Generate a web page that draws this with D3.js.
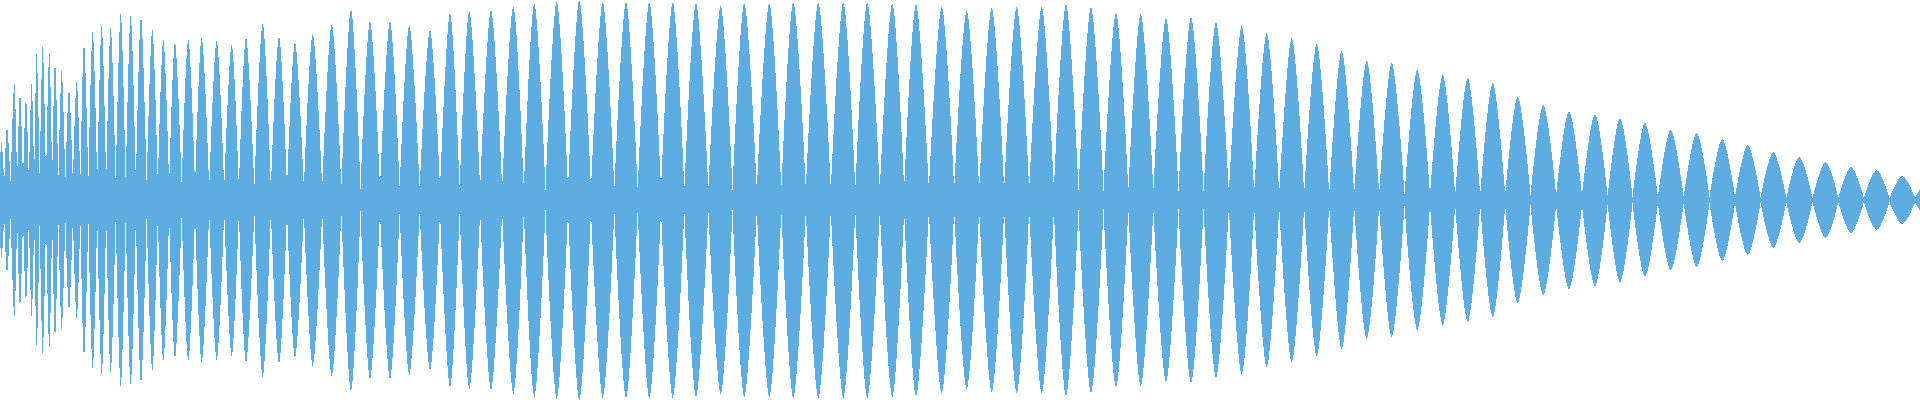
<!DOCTYPE html>
<html><head><meta charset="utf-8">
<script src="https://cdn.jsdelivr.net/npm/d3@7"></script>
<style>html,body{margin:0;padding:0;background:#fff;overflow:hidden}</style>
</head><body><svg id="chart" width="1920" height="400"></svg>
<script>
// Position (sample index) of each lobe's peak
const peakX = [
  1.5, 7, 14.3, 20, 26, 31.7, 36.7, 42.7, 49.3, 55, 61.7, 69, 76.7, 84, 92.7,
  101.7, 110.7, 120.7, 130.7, 141, 152.3, 163.3, 175, 188.3,
  201.7, 216.7, 231.7, 246, 262.7, 279, 295, 312.7, 331.7, 351, 370, 390, 409.3, 430, 450, 469.3, 491,
  513.3, 534.3, 556.7, 579.3, 602.7, 626, 649.3, 672.7, 696, 720.7, 744.3, 769.3, 793.3, 818.3, 843.3,
  867.3, 892.3, 916, 941.7, 966.7, 991.7, 1016.7, 1041.7, 1066, 1091, 1116, 1140.7, 1166, 1191,
  1216, 1241.7, 1266.7, 1291.7, 1316.7, 1341.7, 1366.7, 1391.7,
  1417.3, 1442.7, 1467.7, 1492.7, 1517.7, 1543.3, 1569, 1595,
  1620, 1645, 1670.7, 1696.7, 1722.3, 1747.7,
  1773.3, 1799.3, 1825.7, 1851, 1876.7, 1902.3, 1928
];
// Peak amplitude of each lobe (normalised, 1 = full height)
const peakAmp = [
  0.285, 0.365, 0.585, 0.54, 0.51, 0.585, 0.735, 0.77, 0.745, 0.695, 0.65, 0.555, 0.595, 0.785, 0.845,
  0.875, 0.865, 0.935, 0.925, 0.92, 0.855, 0.805, 0.79, 0.805,
  0.815, 0.80, 0.78, 0.815, 0.885, 0.82, 0.79, 0.83, 0.88, 0.955, 0.895, 0.895, 0.875, 0.85, 0.935, 0.945, 0.95,
  0.97, 0.985, 0.995, 1.0, 0.99, 0.99, 0.99, 0.99, 0.985, 0.97, 0.985, 0.985, 0.99, 0.99, 0.99,
  0.99, 0.985, 0.98, 0.965, 0.945, 0.96, 0.965, 0.965, 0.98, 0.965, 0.935, 0.93, 0.91, 0.915,
  0.89, 0.87, 0.835, 0.81, 0.78, 0.745, 0.695, 0.685,
  0.65, 0.625, 0.61, 0.585, 0.515, 0.475, 0.445, 0.43,
  0.41, 0.385, 0.35, 0.335, 0.305, 0.275,
  0.24, 0.215, 0.19, 0.165, 0.15, 0.12, 0.10
];
// Residual amplitude where each lobe meets its neighbours
const floorAmp = [
  0.08, 0.08, 0.08, 0.08, 0.08, 0.08, 0.08, 0.08, 0.08, 0.08, 0.08, 0.08, 0.08, 0.08, 0.08,
  0.07, 0.07, 0.07, 0.07, 0.07, 0.07, 0.07, 0.07, 0.07,
  0.055, 0.055, 0.055, 0.055, 0.055, 0.055, 0.055, 0.055, 0.055, 0.055, 0.055, 0.055, 0.055, 0.055, 0.055, 0.055, 0.055,
  0.05, 0.05, 0.05, 0.05, 0.05, 0.05, 0.05, 0.05, 0.05, 0.05, 0.05, 0.05, 0.05, 0.05, 0.05,
  0.05, 0.05, 0.05, 0.05, 0.05, 0.05, 0.05, 0.05, 0.05, 0.045, 0.045, 0.045, 0.045, 0.045,
  0.035, 0.035, 0.035, 0.03, 0.03, 0.03, 0.03, 0.03,
  0.025, 0.025, 0.025, 0.025, 0.025, 0.025, 0.025, 0.025,
  0.015, 0.015, 0.015, 0.015, 0.015, 0.015,
  0.01, 0.01, 0.01, 0.01, 0.01, 0.01, 0.01
];

const width = 1920, height = 400;
const svg = d3.select('#chart');
const x = d3.scaleLinear().domain([0, 1920]).range([0, width]);
const y = d3.scaleLinear().domain([-1, 1]).range([height, 0]);

const lobes = peakX.map((p, i) => {
  const prev = i > 0 ? peakX[i - 1] : p - (peakX[1] - peakX[0]);
  const next = i < peakX.length - 1 ? peakX[i + 1] : p + (p - peakX[i - 1]);
  return [
    { t: (prev + p) / 2, v: floorAmp[i] },
    { t: p, v: peakAmp[i] },
    { t: (p + next) / 2, v: floorAmp[i] }
  ];
});

const area = d3.area()
  .x(d => x(d.t))
  .y0(d => y(-d.v))
  .y1(d => y(d.v))
  .curve(d3.curveCardinal.tension(0));

svg.append('g')
  .selectAll('path')
  .data(lobes)
  .join('path')
  .attr('d', area)
  .attr('fill', '#5dade2')
  .attr('shape-rendering', 'crispEdges');
</script>
</body></html>
